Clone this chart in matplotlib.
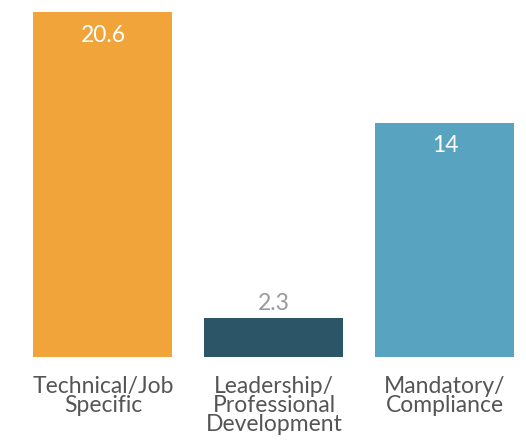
import matplotlib.pyplot as plt

categories = ["Technical/Job\nSpecific", "Leadership/\nProfessional\nDevelopment", "Mandatory/\nCompliance"]
values = [20.6, 2.3, 14]
colors = ["#F0A43A", "#2C5668", "#57A3C0"]

plt.rcParams['font.family'] = ['Lato', 'DejaVu Sans']

fig = plt.figure(figsize=(5.26, 4.4), dpi=100)
ax = fig.add_axes([0, 1 - 357 / 440, 1, 357 / 440])

x = range(len(values))
bars = ax.bar(x, values, width=0.813, color=colors)

ax.set_xlim(-0.602, 2.474)
ax.set_ylim(0, 20.6 * 357 / 345)

for b, v in zip(bars, values):
    cx = b.get_x() + b.get_width() / 2
    if v > 5:
        ax.annotate(f"{v:g}", (cx, v), xytext=(0, -9), textcoords="offset points",
                    ha="center", va="top", color="white", fontsize=16.5)
    else:
        ax.annotate(f"{v:g}", (cx, v), xytext=(0, 3), textcoords="offset points",
                    ha="center", va="bottom", color="#9a9a9a", fontsize=16.5)

ax.set_xticks(list(x))
ax.set_xticklabels(categories, fontsize=16.5, color="#555555", linespacing=0.88)
ax.tick_params(axis="x", length=0, pad=14)
ax.set_yticks([])
for s in ax.spines.values():
    s.set_visible(False)

fig.savefig("out.png", dpi=100)
